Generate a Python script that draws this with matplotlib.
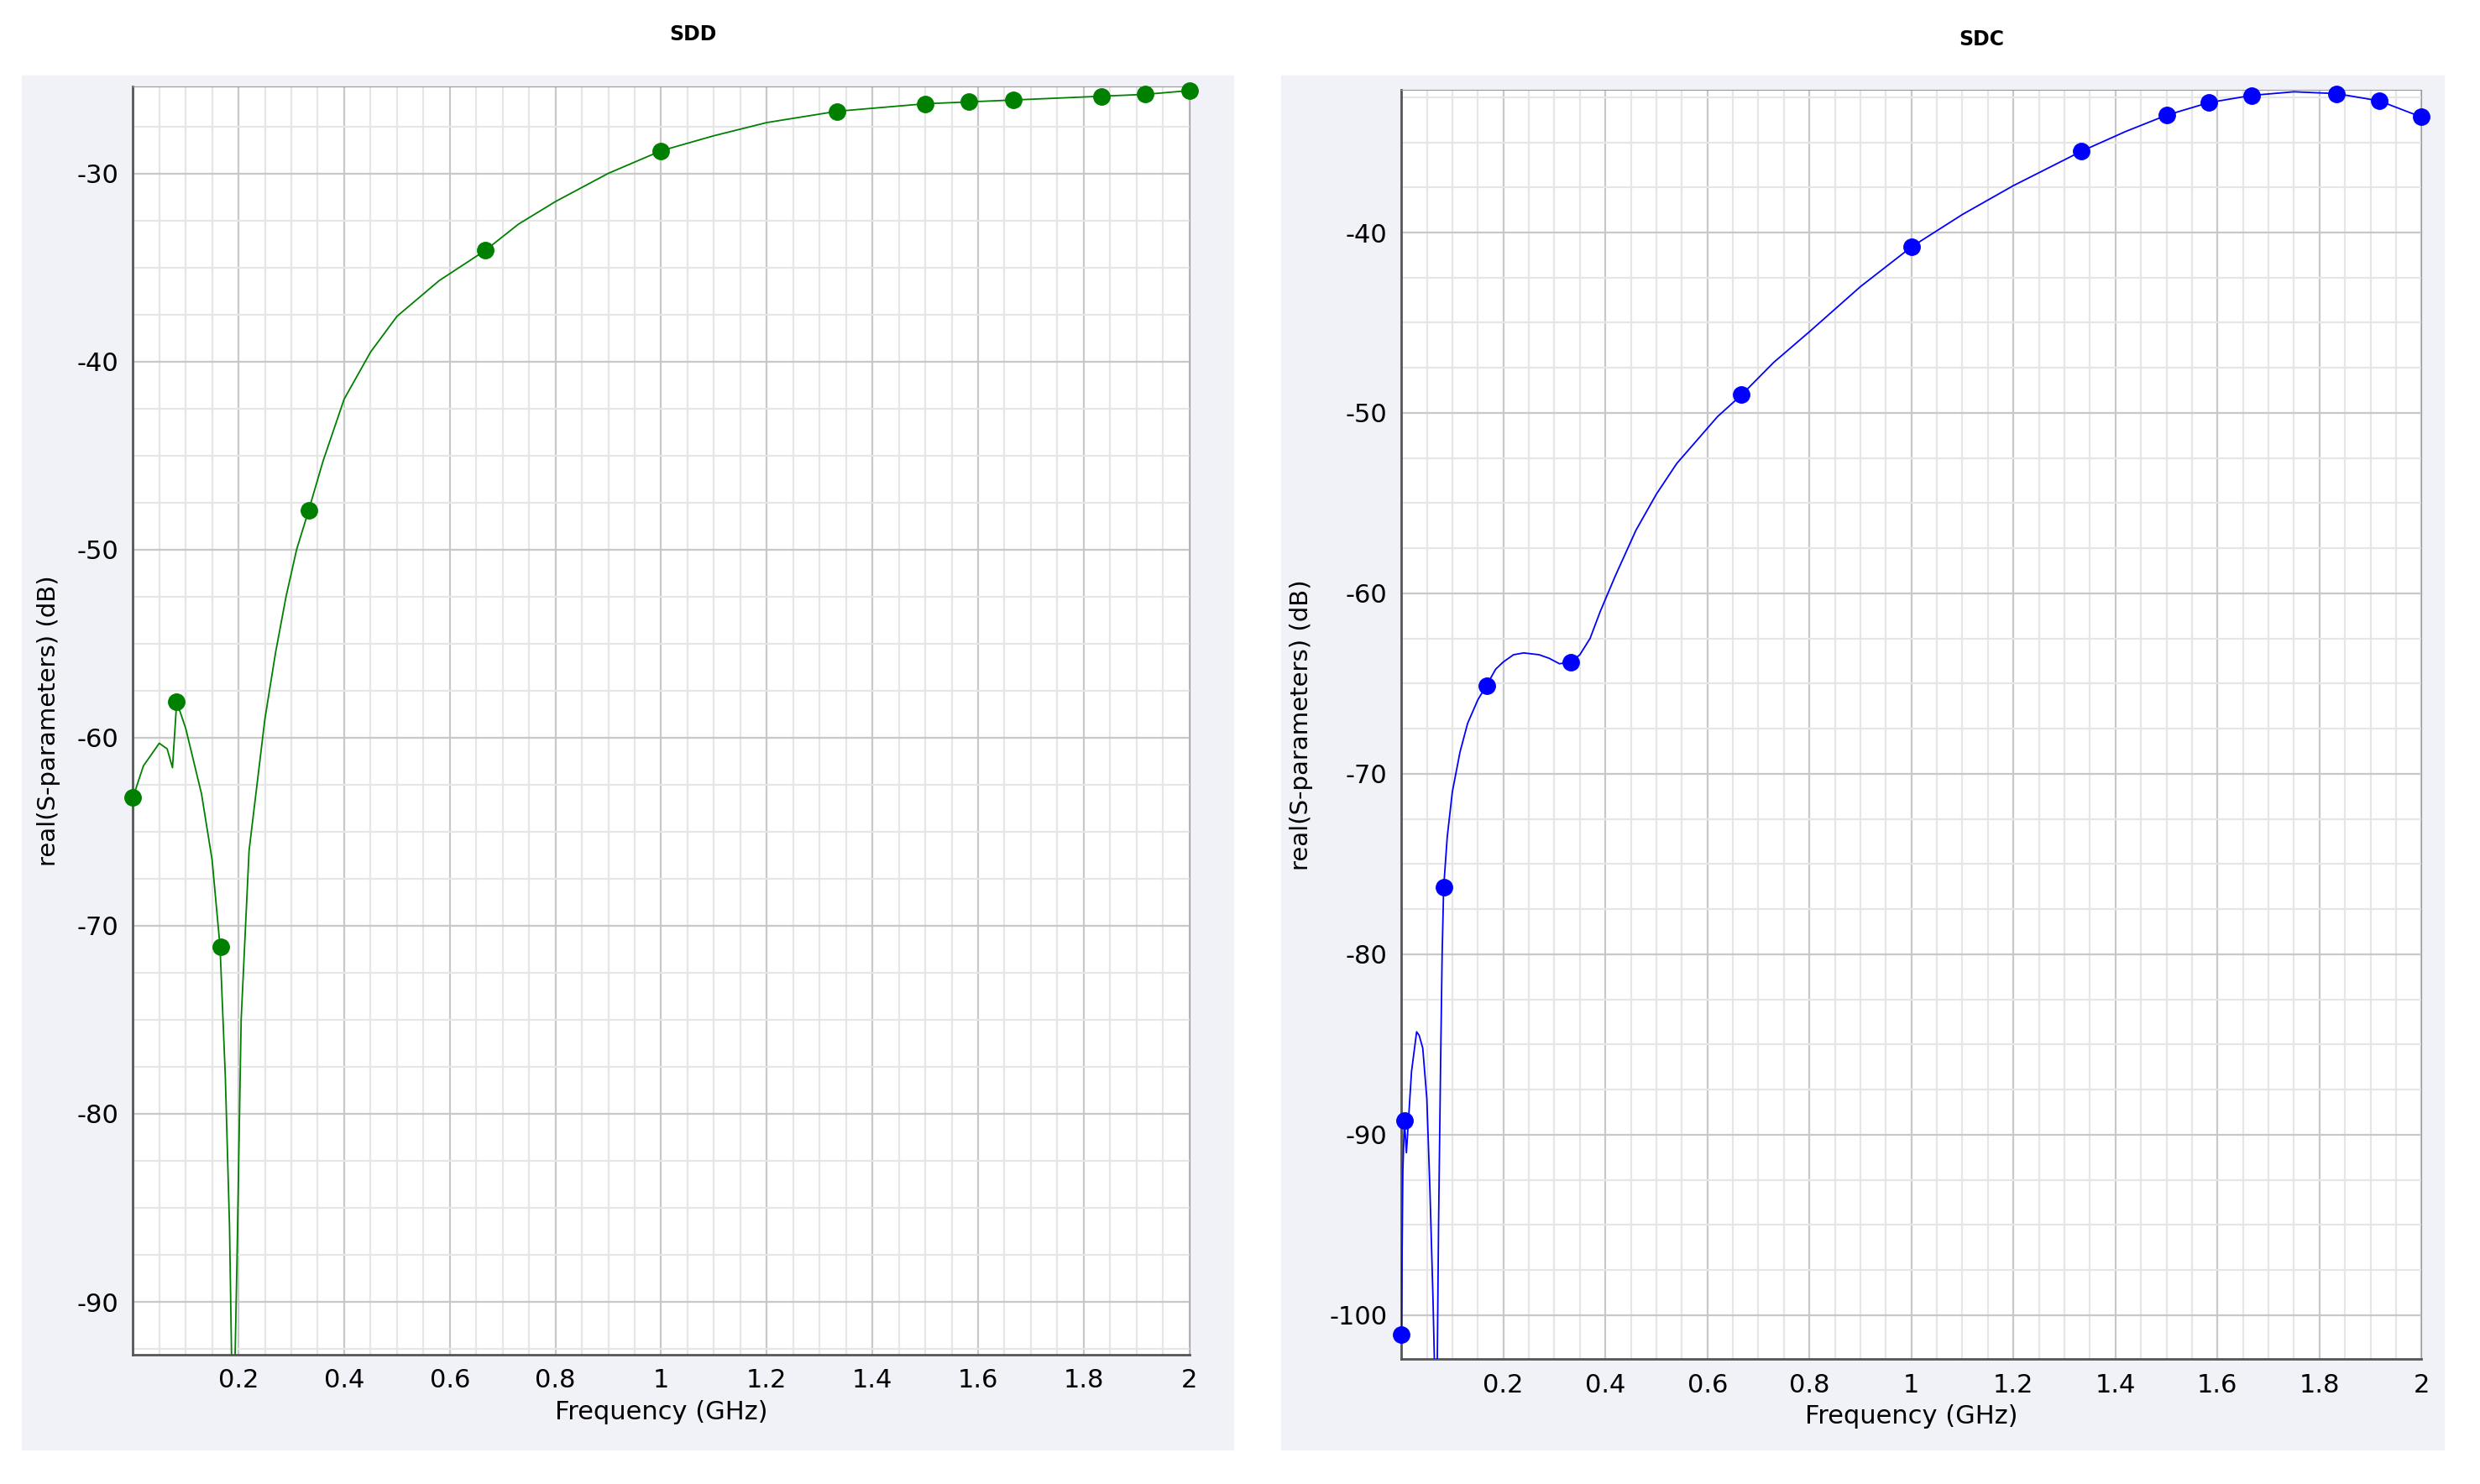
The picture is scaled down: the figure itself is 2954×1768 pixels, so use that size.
import numpy as np
import matplotlib.pyplot as plt
from matplotlib.patches import Rectangle
from matplotlib.ticker import MultipleLocator

plt.rcParams["axes.unicode_minus"] = False

# SDD curve (GHz, dB)
sdd_f = [0, 0.02, 0.05, 0.065, 0.075, 0.083, 0.10, 0.13, 0.15, 0.165, 0.175, 0.183, 0.188, 0.192,
         0.197, 0.205, 0.22, 0.25, 0.27, 0.29, 0.31, 0.333, 0.36, 0.4, 0.45, 0.5, 0.58, 0.667, 0.73,
         0.8, 0.9, 1.0, 1.1, 1.2, 1.333, 1.5, 1.583, 1.667, 1.833, 1.917, 2.0]
sdd_db = [-63.2, -61.5, -60.3, -60.6, -61.6, -58.1, -59.5, -63.0, -66.5, -71.1, -78.0, -86.0, -95.0, -95.0,
          -88.0, -75.0, -66.0, -59.0, -55.5, -52.5, -50.0, -47.9, -45.3, -42.0, -39.5, -37.6, -35.7, -34.1, -32.7,
          -31.5, -30.0, -28.8, -28.0, -27.3, -26.7, -26.3, -26.2, -26.1, -25.9, -25.8, -25.6]
sdd_mf = [0, 0.083, 0.167, 0.333, 0.667, 1.0, 1.333, 1.5, 1.583, 1.667, 1.833, 1.917, 2.0]
sdd_mdb = [-63.2, -58.1, -71.1, -47.9, -34.1, -28.8, -26.7, -26.3, -26.2, -26.1, -25.9, -25.8, -25.6]

# SDC curve
sdc_f = [0, 0.003, 0.006, 0.01, 0.02, 0.03, 0.035, 0.042, 0.05, 0.056, 0.062, 0.066, 0.07, 0.073,
         0.077, 0.08, 0.083, 0.09, 0.1, 0.115, 0.13, 0.15, 0.167, 0.185, 0.2, 0.22, 0.24, 0.27, 0.29,
         0.31, 0.333, 0.35, 0.37, 0.39, 0.42, 0.46, 0.5, 0.54, 0.58, 0.62, 0.667, 0.73, 0.8, 0.9, 1.0,
         1.1, 1.2, 1.333, 1.42, 1.5, 1.583, 1.667, 1.75, 1.833, 1.917, 2.0]
sdc_db = [-101.1, -92.0, -89.2, -91.0, -86.5, -84.3, -84.5, -85.2, -88.0, -93.0, -99.0, -104.0, -104.0, -95.0,
          -86.0, -80.0, -76.3, -73.5, -71.0, -68.8, -67.2, -65.9, -65.1, -64.2, -63.8, -63.4, -63.3, -63.4, -63.6,
          -63.9, -63.8, -63.4, -62.5, -61.0, -59.0, -56.5, -54.5, -52.8, -51.5, -50.2, -49.0, -47.2, -45.5, -43.0, -40.8,
          -39.0, -37.4, -35.5, -34.4, -33.5, -32.8, -32.4, -32.2, -32.3, -32.7, -33.6]
sdc_mf = [0, 0.006, 0.083, 0.167, 0.333, 0.667, 1.0, 1.333, 1.5, 1.583, 1.667, 1.833, 1.917, 2.0]
sdc_mdb = [-101.1, -89.2, -76.3, -65.1, -63.8, -49.0, -40.8, -35.5, -33.5, -32.8, -32.4, -32.3, -32.7, -33.6]

W, H = 1568, 940
fig = plt.figure(figsize=(29.54, 17.68), dpi=100)

# light panel backgrounds
for x0, x1 in [(14, 780), (810, 1545)]:
    fig.add_artist(Rectangle((x0 / W, 1 - 918 / H), (x1 - x0) / W, (918 - 48) / H,
                             transform=fig.transFigure, color="#f1f1f8", zorder=-10))


def panel(rect, f, db, mf, mdb, color, ylim, yticks, title, tx, ty):
    x0, y0, x1, y1 = rect
    ax = fig.add_axes([x0 / W, 1 - y1 / H, (x1 - x0) / W, (y1 - y0) / H])
    ax.set_zorder(1)
    ax.set_facecolor("white")
    ax.plot(f, db, color=color, lw=1.3, zorder=3)
    ax.plot(mf, mdb, "o", color=color, ms=14, zorder=4, clip_on=False)
    ax.set_xlim(0, 2)
    ax.set_ylim(*ylim)
    ax.set_xticks([0.2, 0.4, 0.6, 0.8, 1, 1.2, 1.4, 1.6, 1.8, 2])
    ax.set_xticklabels(["0.2", "0.4", "0.6", "0.8", "1", "1.2", "1.4", "1.6", "1.8", "2"])
    ax.set_yticks(yticks)
    ax.xaxis.set_minor_locator(MultipleLocator(0.05))
    ax.yaxis.set_minor_locator(MultipleLocator(2.5))
    ax.grid(True, which="major", color="#c8c8c8", lw=1.6)
    ax.grid(True, which="minor", color="#e6e6e6", lw=1.6)
    ax.set_axisbelow(True)
    ax.tick_params(which="both", length=0, labelsize=22, pad=12)
    for s in ["top", "right"]:
        ax.spines[s].set_color("#999999")
    for s in ["left", "bottom"]:
        ax.spines[s].set_color("#555555")
        ax.spines[s].set_linewidth(2)
    ax.set_xlabel("Frequency (GHz)", fontsize=22, labelpad=6)
    ax.set_ylabel("real(S-parameters) (dB)", fontsize=21, labelpad=14)
    fig.text(tx / W, 1 - ty / H, title, ha="center", va="center", fontsize=17, fontweight="bold")
    return ax


panel((84, 55, 752, 858), sdd_f, sdd_db, sdd_mf, sdd_mdb, "#008000",
      (-92.8, -25.4), [-30, -40, -50, -60, -70, -80, -90], "SDD", 438, 22)
panel((886, 57, 1531, 861), sdc_f, sdc_db, sdc_mf, sdc_mdb, "#0000ff",
      (-102.45, -32.1), [-40, -50, -60, -70, -80, -90, -100], "SDC", 1253, 25)

fig.savefig("out.png", dpi=100)
